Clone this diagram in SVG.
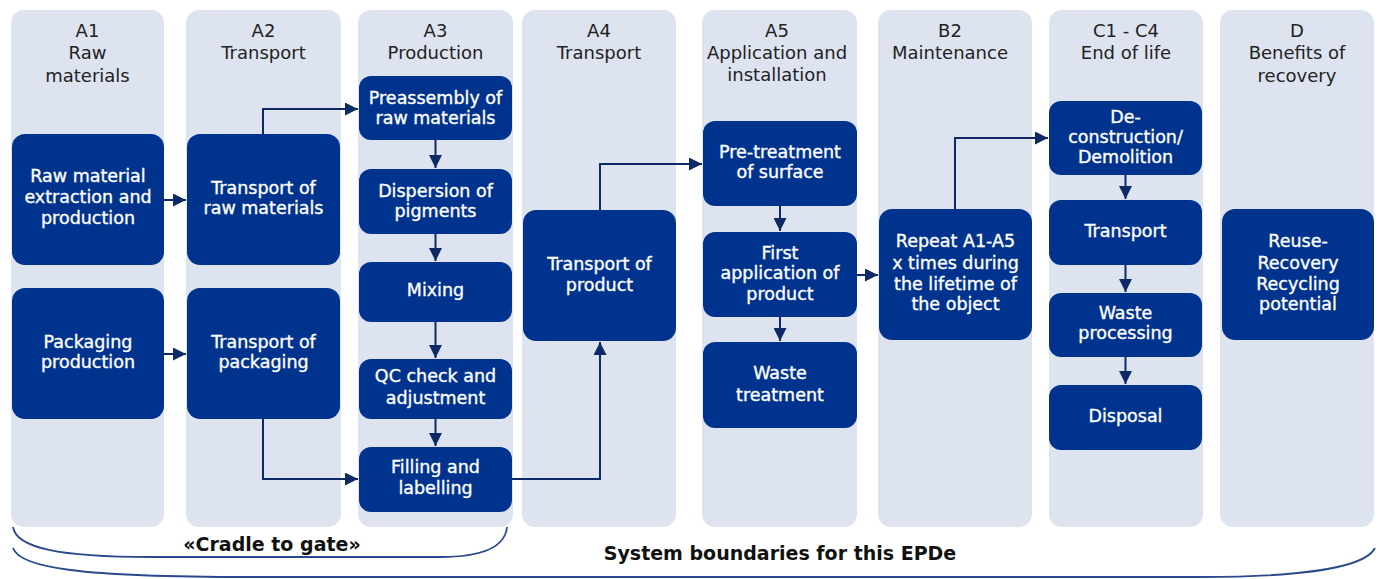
<svg xmlns="http://www.w3.org/2000/svg" width="1382" height="579" viewBox="0 0 1382 579">
<style>
.col{fill:#dde4f0}
.node rect{fill:#00338d}
.node text{fill:#ffffff;stroke:#ffffff;stroke-width:0.35;font-family:"DejaVu Sans",Verdana,sans-serif;font-size:17.5px;text-anchor:middle}
.hdr{fill:#222222;font-family:"DejaVu Sans",Verdana,sans-serif;font-size:18px;text-anchor:middle}
.conn{fill:none;stroke:#0d2a66;stroke-width:2}
.brace{fill:none;stroke:#2b4a8c;stroke-width:1.8}
.lbl{fill:#111111;font-family:"DejaVu Sans",Verdana,sans-serif;font-size:19px;font-weight:bold;text-anchor:middle}
</style>
<defs>
<marker id="ah" viewBox="0 0 10 10" refX="10" refY="5" markerWidth="6.5" markerHeight="6.5" orient="auto" markerUnits="strokeWidth">
<path d="M0,0 L10,5 L0,10 Z" fill="#0d2a66"/>
</marker>
</defs>
<rect width="1382" height="579" fill="#ffffff"/>
<g id="columns">
<rect class="col" x="11" y="10" width="153" height="517" rx="13"/>
<rect class="col" x="186" y="10" width="155" height="517" rx="13"/>
<rect class="col" x="358" y="10" width="155" height="517" rx="13"/>
<rect class="col" x="522" y="10" width="154" height="517" rx="13"/>
<rect class="col" x="702" y="10" width="155" height="517" rx="13"/>
<rect class="col" x="878" y="10" width="154" height="517" rx="13"/>
<rect class="col" x="1049" y="10" width="154" height="517" rx="13"/>
<rect class="col" x="1220" y="10" width="154" height="517" rx="13"/>
</g>
<g id="headers">
<text class="hdr" x="87.5" y="37">A1</text><text class="hdr" x="87.5" y="59">Raw</text><text class="hdr" x="87.5" y="82">materials</text>
<text class="hdr" x="263.5" y="37">A2</text><text class="hdr" x="263.5" y="59">Transport</text>
<text class="hdr" x="435.5" y="37">A3</text><text class="hdr" x="435.5" y="59">Production</text>
<text class="hdr" x="599" y="37">A4</text><text class="hdr" x="599" y="59">Transport</text>
<text class="hdr" x="777" y="37">A5</text><text class="hdr" x="777" y="59">Application and</text><text class="hdr" x="777" y="81">installation</text>
<text class="hdr" x="950" y="37">B2</text><text class="hdr" x="950" y="59">Maintenance</text>
<text class="hdr" x="1126" y="37">C1 - C4</text><text class="hdr" x="1126" y="59">End of life</text>
<text class="hdr" x="1297" y="37">D</text><text class="hdr" x="1297" y="59">Benefits of</text><text class="hdr" x="1297" y="82">recovery</text>
</g>
<g id="n-raw" class="node"><rect x="12" y="134" width="152" height="131" rx="13"/><text x="88" y="182">Raw material</text><text x="88" y="203">extraction and</text><text x="88" y="224">production</text></g>
<g id="n-pack" class="node"><rect x="12" y="288" width="152" height="131" rx="13"/><text x="88" y="348">Packaging</text><text x="88" y="368">production</text></g>
<g id="n-traw" class="node"><rect x="187" y="134" width="153" height="131" rx="13"/><text x="263.5" y="194">Transport of</text><text x="263.5" y="214">raw materials</text></g>
<g id="n-tpack" class="node"><rect x="187" y="288" width="153" height="131" rx="13"/><text x="263.5" y="348">Transport of</text><text x="263.5" y="368">packaging</text></g>
<g id="n-pre" class="node"><rect x="359" y="76" width="153" height="64" rx="12"/><text x="435.5" y="104">Preassembly of</text><text x="435.5" y="124">raw materials</text></g>
<g id="n-disp" class="node"><rect x="359" y="169" width="153" height="65" rx="12"/><text x="435.5" y="197">Dispersion of</text><text x="435.5" y="217">pigments</text></g>
<g id="n-mix" class="node"><rect x="359" y="262" width="153" height="60" rx="12"/><text x="435.5" y="296">Mixing</text></g>
<g id="n-qc" class="node"><rect x="359" y="359" width="153" height="60" rx="12"/><text x="435.5" y="382">QC check and</text><text x="435.5" y="404">adjustment</text></g>
<g id="n-fill" class="node"><rect x="359" y="447" width="153" height="65" rx="12"/><text x="435.5" y="473">Filling and</text><text x="435.5" y="494">labelling</text></g>
<g id="n-tprod" class="node"><rect x="523" y="210" width="153" height="131" rx="13"/><text x="599.5" y="270">Transport of</text><text x="599.5" y="291">product</text></g>
<g id="n-pret" class="node"><rect x="703" y="121" width="154" height="85" rx="12"/><text x="780" y="158">Pre-treatment</text><text x="780" y="178">of surface</text></g>
<g id="n-first" class="node"><rect x="703" y="232" width="154" height="85" rx="12"/><text x="780" y="259">First</text><text x="780" y="279">application of</text><text x="780" y="300">product</text></g>
<g id="n-wt" class="node"><rect x="703" y="342" width="154" height="86" rx="12"/><text x="780" y="379">Waste</text><text x="780" y="401">treatment</text></g>
<g id="n-rep" class="node"><rect x="879" y="209" width="153" height="131" rx="13"/><text x="955.5" y="247">Repeat A1-A5</text><text x="955.5" y="269">x times during</text><text x="955.5" y="290">the  lifetime of</text><text x="955.5" y="310">the object</text></g>
<g id="n-dec" class="node"><rect x="1049" y="101" width="153" height="74" rx="12"/><text x="1125.5" y="123">De-</text><text x="1125.5" y="143">construction/</text><text x="1125.5" y="163">Demolition</text></g>
<g id="n-ctr" class="node"><rect x="1049" y="200" width="153" height="65" rx="12"/><text x="1125.5" y="237">Transport</text></g>
<g id="n-wp" class="node"><rect x="1049" y="293" width="153" height="64" rx="12"/><text x="1125.5" y="319">Waste</text><text x="1125.5" y="339">processing</text></g>
<g id="n-disposal" class="node"><rect x="1049" y="385" width="153" height="65" rx="12"/><text x="1125.5" y="422">Disposal</text></g>
<g id="n-reuse" class="node"><rect x="1222" y="209" width="152" height="131" rx="13"/><text x="1298" y="247">Reuse-</text><text x="1298" y="269">Recovery</text><text x="1298" y="290">Recycling</text><text x="1298" y="310">potential</text></g>
<g id="connectors">
<path class="conn" d="M164,200 H186" marker-end="url(#ah)"/>
<path class="conn" d="M164,354 H186" marker-end="url(#ah)"/>
<path class="conn" d="M263,134 V109 H358" marker-end="url(#ah)"/>
<path class="conn" d="M263,419 V479 H358" marker-end="url(#ah)"/>
<path class="conn" d="M435.5,140 V168" marker-end="url(#ah)"/>
<path class="conn" d="M435.5,234 V261" marker-end="url(#ah)"/>
<path class="conn" d="M435.5,322 V358" marker-end="url(#ah)"/>
<path class="conn" d="M435.5,419 V446" marker-end="url(#ah)"/>
<path class="conn" d="M512,479 H600 V342" marker-end="url(#ah)"/>
<path class="conn" d="M600,210 V164 H702" marker-end="url(#ah)"/>
<path class="conn" d="M780,206 V231" marker-end="url(#ah)"/>
<path class="conn" d="M780,317 V341" marker-end="url(#ah)"/>
<path class="conn" d="M857,275 H878" marker-end="url(#ah)"/>
<path class="conn" d="M955,209 V138 H1048" marker-end="url(#ah)"/>
<path class="conn" d="M1125.5,175 V199" marker-end="url(#ah)"/>
<path class="conn" d="M1125.5,265 V292" marker-end="url(#ah)"/>
<path class="conn" d="M1125.5,357 V384" marker-end="url(#ah)"/>
</g>
<g id="braces">
<path class="brace" d="M13,527 C16,548 60,557 150,557 H440 C480,557 505,548 507,527"/>
<text class="lbl" x="272" y="551">«Cradle to gate»</text>
<path class="brace" d="M13,548 C20,568 80,577 250,577 H1200 C1300,577 1365,568 1375,548"/>
<text class="lbl" x="780" y="560">System boundaries for this EPDe</text>
</g>
</svg>
